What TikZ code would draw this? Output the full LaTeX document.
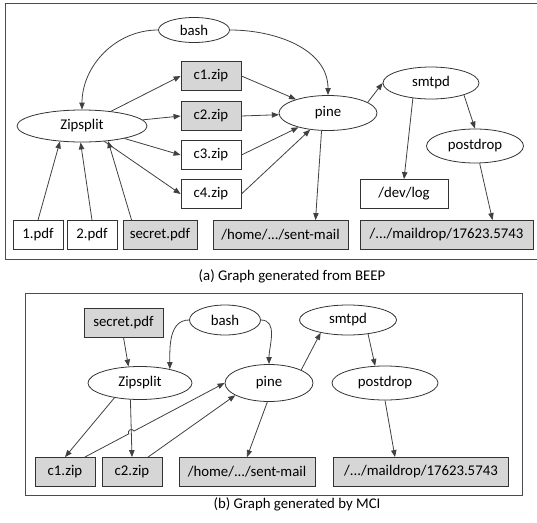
\documentclass[tikz,border=0pt]{standalone}
\usepackage{fontspec}
\setmainfont{Carlito}
\usetikzlibrary{arrows.meta,shapes.geometric,calc}
\begin{document}
\begin{tikzpicture}[x=1pt,y=-1pt,font=\fontsize{14.8}{17}\selectfont,
  proc/.style={draw=black!80,line width=0.8pt,ellipse,inner sep=0pt},
  file/.style={draw=black!80,line width=0.8pt,inner sep=0pt,minimum height=29pt},
  taint/.style={file,fill=black!16},
  flow/.style={draw=black!75,line width=0.8pt,-{Triangle[length=7pt,width=5.4pt]}},
  panel/.style={draw=black!70,line width=1pt}]
\useasboundingbox (0,0) rectangle (537,522);
\draw[panel] (537,3) -- (5,3) -- (5,259) -- (537,259);
\draw[panel] (25,293) rectangle (522,495);
\node (capA) at (292,276) {(a) Graph generated from BEEP};
\node (capB) at (297,504) {(b) Graph generated by MCI};
\node[proc,minimum width=71pt,minimum height=25pt] (bashA) at (194,30) {bash};
\node[proc,minimum width=130pt,minimum height=32pt] (zipA) at (82,126) {Zipsplit};
\node[proc,minimum width=98pt,minimum height=35pt] (pineA) at (328,113) {pine};
\node[proc,minimum width=96pt,minimum height=32pt] (smtpdA) at (431,83) {smtpd};
\node[proc,minimum width=97pt,minimum height=34pt] (postdropA) at (475,146) {postdrop};
\foreach \n/\y/\s in {1/76/taint,2/116/taint,3/155/file,4/194/file}
  \node[\s,minimum width=60pt] (c\n A) at (211,\y) {c\n.zip};
\node[file,minimum width=88pt] (devlogA) at (404,194) {/dev/log};
\node[file,minimum width=50pt] (pdf1A) at (38,235) {1.pdf};
\node[file,minimum width=50pt] (pdf2A) at (92,235) {2.pdf};
\node[taint,minimum width=74pt] (secretA) at (160,235) {secret.pdf};
\node[taint,minimum width=135pt] (sentA) at (280.5,235) {/home/.../sent-mail};
\node[taint,minimum width=173pt] (maildropA) at (446.5,235) {/.../maildrop/17623.5743};
\foreach \n in {1,...,4} {
  \draw[flow] (zipA) -- (c\n A.west);
  \draw[flow] (c\n A.east) -- (pineA);
}
\draw[flow] (bashA.west) to[out=180,in=90] (zipA.north);
\draw[flow] (bashA.east) to[out=0,in=90] (pineA.north);
\draw[flow] (pdf1A.north) -- (zipA.215);
\draw[flow] (pdf2A.north) -- (zipA.265);
\draw[flow] ($(secretA.north west)+(9,0)$) -- (zipA.330);
\draw[flow] (pineA.15) -- (smtpdA.west);
\draw[flow] (pineA.250) -- ($(sentA.north)+(35,0)$);
\draw[flow] (smtpdA.220) -- (devlogA.north);
\draw[flow] (smtpdA.340) -- (postdropA.north);
\draw[flow] (postdropA.285) -- ($(maildropA.north)+(46,0)$);
\node[taint,minimum width=79pt] (secretB) at (123.5,322.5) {secret.pdf};
\node[proc,minimum width=71pt,minimum height=30pt] (bashB) at (225,320) {bash};
\node[proc,minimum width=97pt,minimum height=30pt] (smtpdB) at (348,320) {smtpd};
\node[proc,minimum width=104pt,minimum height=33pt] (zipB) at (140,383) {Zipsplit};
\node[proc,minimum width=88pt,minimum height=37pt] (pineB) at (269,383) {pine};
\node[proc,minimum width=106pt,minimum height=34pt] (postdropB) at (385,383) {postdrop};
\node[taint,minimum width=60pt] (c1B) at (65,472) {c1.zip};
\node[taint,minimum width=60pt] (c2B) at (132,472) {c2.zip};
\node[taint,minimum width=136pt] (sentB) at (247,472) {/home/.../sent-mail};
\node[taint,minimum width=175pt] (maildropB) at (421,472) {/.../maildrop/17623.5743};
\draw[flow] (secretB.south) -- (zipB.125);
\draw[flow] (bashB.west) to[out=180,in=90] (zipB.25);
\draw[flow] (bashB.east) to[out=0,in=90] (pineB.north);
\draw[flow] (zipB.210) -- (c1B.north);
\draw[flow] (zipB.240) -- (c2B.north);
\coordinate (hop) at (intersection of c1B.37--pineB.west and zipB.240--c2B.north);
\draw[flow] (c1B.37) -- ($(hop)!3pt!(c1B.37)$) arc[start angle=208,end angle=28,radius=3pt] -- (pineB.west);
\draw[flow] (c2B.43) -- (pineB.200);
\draw[flow] (pineB.265) -- (sentB.north);
\draw[flow] (pineB.22) -- (smtpdB.205);
\draw[flow] (smtpdB.325) -- (postdropB.120);
\draw[flow] (postdropB.south) -- ($(maildropB.north)+(-26,0)$);
\end{tikzpicture}
\end{document}
